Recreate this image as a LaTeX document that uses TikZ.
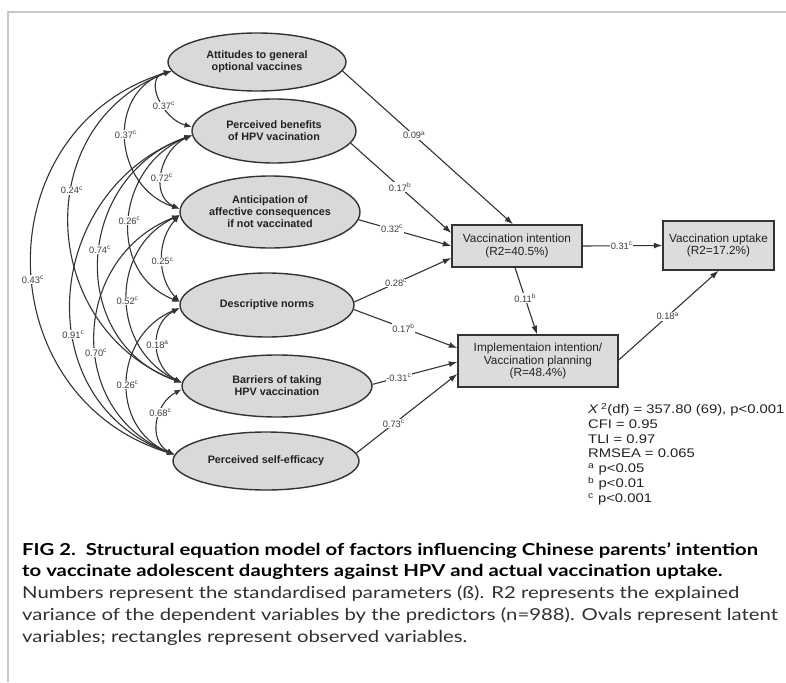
\documentclass[tikz,border=0pt]{standalone}
\usepackage{fontspec}
\setmainfont{Liberation Sans}
\newfontfamily\capfont{Lato}
\usetikzlibrary{arrows.meta,shapes.geometric,calc}
\definecolor{edge}{HTML}{333333}
\definecolor{ovfill}{HTML}{D9D9D9}
\definecolor{bxfill}{HTML}{DCDCDC}
\definecolor{framec}{HTML}{C8C8C8}
\definecolor{txt}{HTML}{222222}
\definecolor{coefc}{HTML}{3C3C3C}
\definecolor{captxt}{HTML}{303030}
\newcommand{\cf}[2]{#1\textsuperscript{#2}}
\begin{document}
\begin{tikzpicture}[x=1pt,y=-1pt,
  lat/.style={ellipse,draw=edge,fill=ovfill,line width=1.4pt,inner sep=0pt,align=center,text=txt,
    font=\fontsize{10.8}{12}\selectfont\bfseries},
  obs/.style={rectangle,draw=edge,fill=bxfill,line width=1.4pt,inner sep=0pt,align=center,text=txt,
    font=\fontsize{11.8}{12.2}\selectfont},
  cov/.style={{Latex[length=7.5pt,width=5.5pt]}-{Latex[length=7.5pt,width=5.5pt]},line width=1.1pt,draw=edge},
  reg/.style={-{Latex[length=8.5pt,width=6pt]},line width=1.1pt,draw=edge},
  coef/.style={fill=white,inner sep=0.7pt,text=coefc,font=\fontsize{9.3}{10}\selectfont},
]
\useasboundingbox (0,0) rectangle (786,682);
\draw[framec,line width=1.2pt] (786,12) -- (8,12) -- (8,682);

% latent variables
\node[lat,minimum width=178pt,minimum height=58pt] (e1) at (257,62) {Attitudes to general\\optional vaccines};
\node[lat,minimum width=164pt,minimum height=64pt] (e2) at (274,131) {Perceived benefits\\of HPV vacination};
\node[lat,minimum width=180pt,minimum height=72pt] (e3) at (270,212) {Anticipation of\\affective consequences\\if not vaccinated};
\node[lat,minimum width=174pt,minimum height=64pt] (e4) at (267,305) {Descriptive norms};
\node[lat,minimum width=190pt,minimum height=62pt] (e5) at (277,386) {Barriers of taking\\HPV vaccination};
\node[lat,minimum width=186pt,minimum height=58pt] (e6) at (266,461) {Perceived self-efficacy};

% observed variables
\node[obs,minimum width=130pt,minimum height=42pt] (vi) at (517,246) {Vaccination intention\\(R2=40.5\%)};
\node[obs,minimum width=111pt,minimum height=49pt] (vu) at (718.5,245.5) {Vaccination uptake\\(R2=17.2\%)};
\node[obs,minimum width=160pt,minimum height=52pt] (im) at (538,361) {Implementaion intention/\\Vaccination planning\\(R=48.4\%)};

% covariances
\draw[cov] (e1.186.8) .. controls +(-29,7) and +(-29,-7) .. node[coef,pos=0.6]{\cf{0.37}{c}} (e2.177.2);
\draw[cov] (e1.186.8) .. controls +(-66,22) and +(-66,-22) .. node[coef,pos=0.47]{\cf{0.37}{c}} (e3.178);
\draw[cov] (e1.186.8) .. controls +(-143,54) and +(-143,-54) .. node[coef,pos=0.405]{\cf{0.24}{c}} (e5.178);
\draw[cov] (e1.186.8) .. controls +(-188,58) and +(-188,-58) .. node[coef,pos=0.535]{\cf{0.43}{c}} (e6.176.2);
\draw[cov] (e2.183.5) .. controls +(-31,14) and +(-31,-14) .. node[coef,pos=0.56]{\cf{0.72}{c}} (e3.178);
\draw[cov] (e2.183.5) .. controls +(-75,30) and +(-75,-30) .. node[coef,pos=0.51]{\cf{0.26}{c}} (e4.178);
\draw[cov] (e2.183.5) .. controls +(-117,41) and +(-117,-41) .. node[coef,pos=0.47]{\cf{0.74}{c}} (e5.178);
\draw[cov] (e2.183.5) .. controls +(-149,54) and +(-149,-54) .. node[coef,pos=0.6]{\cf{0.91}{c}} (e6.176.2);
\draw[cov] (e3.182) .. controls +(-23,25) and +(-23,-25) .. node[coef,pos=0.53]{\cf{0.25}{c}} (e4.178);
\draw[cov] (e3.182) .. controls +(-71,34) and +(-71,-34) .. node[coef,pos=0.51]{\cf{0.52}{c}} (e5.178);
\draw[cov] (e3.182) .. controls +(-109,43) and +(-109,-43) .. node[coef,pos=0.56]{\cf{0.70}{c}} (e6.176.2);
\draw[cov] (e4.182) .. controls +(-31,16) and +(-31,-16) .. node[coef,pos=0.49]{\cf{0.18}{a}} (e5.178);
\draw[cov] (e4.182) .. controls +(-66,27) and +(-66,-27) .. node[coef,pos=0.52]{\cf{0.26}{c}} (e6.176.2);
\draw[cov] (e5.182) .. controls +(-27,14) and +(-27,-14) .. node[coef,pos=0.38]{\cf{0.68}{c}} (e6.176.2);

% regressions
\draw[reg] (e1.-6.8) -- node[coef,pos=0.42]{\cf{0.09}{a}} ($(vi.north)+(-4,0)$);
\draw[reg] (e2.-9) -- node[coef,pos=0.49]{\cf{0.17}{b}} ($(vi.west)+(0,-13)$);
\draw[reg] (e3.-5.2) -- node[coef,pos=0.36]{\cf{0.32}{c}} (vi.west);
\draw[reg] (e4.2) -- node[coef,pos=0.43]{\cf{0.28}{c}} ($(vi.west)+(0,12)$);
\draw[reg] (e4.-3.3) -- node[coef,pos=0.48]{\cf{0.17}{b}} ($(im.west)+(0,-13)$);
\draw[reg] (e5.1.2) -- node[coef,pos=0.31]{\cf{-0.31}{c}} ($(im.west)+(0,1)$);
\draw[reg] (e6.5.8) -- node[coef,pos=0.37]{\cf{0.73}{c}} ($(im.west)+(0,13)$);
\draw[reg] (vi.east) -- node[coef,pos=0.49]{\cf{0.31}{c}} (vu.west);
\draw[reg] ($(vi.south)+(-2,0)$) -- node[coef,pos=0.46]{\cf{0.11}{b}} ($(im.north)+(-1,0)$);
\draw[reg] ($(im.east)+(0,-1)$) -- node[coef,pos=0.49]{\cf{0.18}{a}} (vu.south);

% fit statistics
\node[anchor=base west,inner sep=0pt,text=txt,font=\fontsize{12.5}{14.8}\selectfont] (fit) at (588,413.5)
 {\scalebox{1.185}[1]{\begin{tabular}[t]{@{}l@{}}
 \textit{X}\,\textsuperscript{2}(df) = 357.80 (69), p<0.001\\
 CFI = 0.95\\ TLI = 0.97\\ RMSEA = 0.065\\
 \textsuperscript{a} p<0.05\\ \textsuperscript{b} p<0.01\\ \textsuperscript{c} p<0.001
 \end{tabular}}};

% caption
\node[anchor=base west,inner sep=0pt,text=captxt,font=\capfont\fontsize{16.5}{21.75}\selectfont] (cap) at (22,555)
 {\scalebox{1.23}[1]{\begin{tabular}[t]{@{}l@{}}
 {\bfseries\color{black}FIG 2.\ \ Structural equation model of factors influencing Chinese parents’ intention}\\
 {\bfseries\color{black}to vaccinate adolescent daughters against HPV and actual vaccination uptake.}\\
 Numbers represent the standardised parameters (ß). R2 represents the explained\\
 variance of the dependent variables by the predictors (n=988). Ovals represent latent\\
 variables; rectangles represent observed variables.
 \end{tabular}}};
\end{tikzpicture}
\end{document}
